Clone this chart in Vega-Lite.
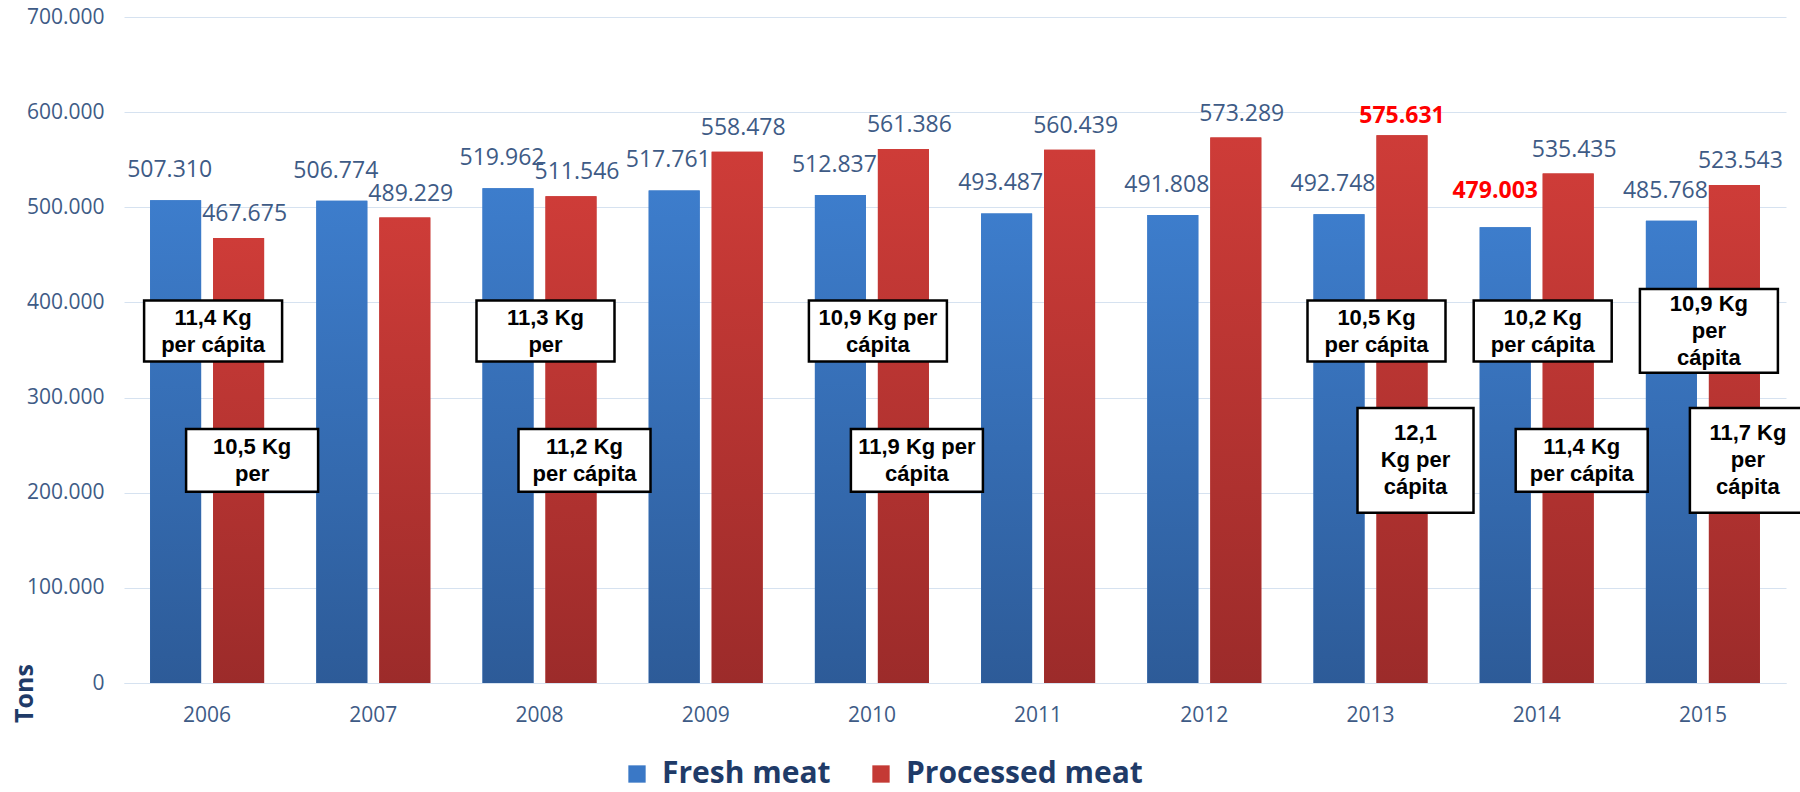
{
  "$schema": "https://vega.github.io/schema/vega-lite/v6.json",
  "width": 1662,
  "height": 666,
  "autosize": "none",
  "padding": {"left": 124, "top": 17, "right": 14, "bottom": 109},
  "config": {
    "locale": {"number": {"decimal": ",", "thousands": ".", "grouping": [3], "currency": ["", " €"]}},
    "view": {"stroke": null},
    "font": "Open Sans"
  },
  "datasets": {
    "meat": [
      {"year": "2006", "series": "Fresh meat", "tons": 507310},
      {"year": "2006", "series": "Processed meat", "tons": 467675},
      {"year": "2007", "series": "Fresh meat", "tons": 506774},
      {"year": "2007", "series": "Processed meat", "tons": 489229},
      {"year": "2008", "series": "Fresh meat", "tons": 519962},
      {"year": "2008", "series": "Processed meat", "tons": 511546},
      {"year": "2009", "series": "Fresh meat", "tons": 517761},
      {"year": "2009", "series": "Processed meat", "tons": 558478},
      {"year": "2010", "series": "Fresh meat", "tons": 512837},
      {"year": "2010", "series": "Processed meat", "tons": 561386},
      {"year": "2011", "series": "Fresh meat", "tons": 493487},
      {"year": "2011", "series": "Processed meat", "tons": 560439},
      {"year": "2012", "series": "Fresh meat", "tons": 491808},
      {"year": "2012", "series": "Processed meat", "tons": 573289},
      {"year": "2013", "series": "Fresh meat", "tons": 492748},
      {"year": "2013", "series": "Processed meat", "tons": 575631},
      {"year": "2014", "series": "Fresh meat", "tons": 479003},
      {"year": "2014", "series": "Processed meat", "tons": 535435},
      {"year": "2015", "series": "Fresh meat", "tons": 485768},
      {"year": "2015", "series": "Processed meat", "tons": 523543}
    ],
    "notes": [
      {"year": "2006", "series": "Fresh meat", "note": "11,4 Kg|per cápita"},
      {"year": "2006", "series": "Processed meat", "note": "10,5 Kg|per"},
      {"year": "2008", "series": "Fresh meat", "note": "11,3 Kg|per"},
      {"year": "2008", "series": "Processed meat", "note": "11,2 Kg|per cápita"},
      {"year": "2010", "series": "Fresh meat", "note": "10,9 Kg per|cápita"},
      {"year": "2010", "series": "Processed meat", "note": "11,9 Kg per|cápita"},
      {"year": "2013", "series": "Fresh meat", "note": "10,5 Kg|per cápita"},
      {"year": "2013", "series": "Processed meat", "note": "12,1|Kg per|cápita"},
      {"year": "2014", "series": "Fresh meat", "note": "10,2 Kg|per cápita"},
      {"year": "2014", "series": "Processed meat", "note": "11,4 Kg|per cápita"},
      {"year": "2015", "series": "Fresh meat", "note": "10,9 Kg|per|cápita"},
      {"year": "2015", "series": "Processed meat", "note": "11,7 Kg|per|cápita"}
    ]
  },
  "layer": [
    {
      "data": {"name": "meat"},
      "mark": {"type": "bar"},
      "encoding": {
        "x": {
          "field": "year", "type": "nominal",
          "scale": {"paddingInner": 0.314, "paddingOuter": 0.157},
          "axis": {
            "title": null, "labelAngle": 0, "labelFontSize": 21, "labelColor": "#3E5B86",
            "labelFont": "Open Sans", "ticks": false, "tickSize": 0, "labelPadding": 21,
            "domainColor": "#D6E2F0", "domainWidth": 1
          }
        },
        "xOffset": {
          "field": "series", "type": "nominal",
          "scale": {"domain": ["Fresh meat", "Processed meat"], "paddingInner": 0.19, "paddingOuter": 0}
        },
        "y": {
          "field": "tons", "type": "quantitative",
          "scale": {"domain": [0, 700000], "nice": false},
          "axis": {
            "values": [0, 100000, 200000, 300000, 400000, 500000, 600000, 700000],
            "format": ",d", "labelFontSize": 21, "labelColor": "#3E5B86", "labelFont": "Open Sans",
            "ticks": false, "tickSize": 0, "domain": false, "labelPadding": 20,
            "gridColor": "#D6E2F0", "gridWidth": 1,
            "title": "Tons", "titleFontSize": 25, "titleFontWeight": "bold", "titleColor": "#1F3B68",
            "titleAngle": 270, "titleX": -100, "titleY": 676, "titleAlign": "center", "titleBaseline": "middle"
          }
        },
        "color": {
          "field": "series", "type": "nominal",
          "scale": {"domain": ["Fresh meat", "Processed meat"], "range": ["#3A78C6", "#C43A35"]},
          "legend": {
            "orient": "none", "legendX": 498, "legendY": 742, "direction": "horizontal", "columns": 2, "title": null,
            "symbolType": "square", "symbolSize": 300, "symbolStrokeWidth": 0, "symbolOpacity": 1,
            "labelFontSize": 30, "labelFont": "Open Sans", "labelFontWeight": "bold", "labelColor": "#1F3B68",
            "labelLimit": 0, "columnPadding": 35, "labelOffset": 10, "padding": 0
          }
        }
      }
    },
    {
      "data": {"name": "meat"},
      "transform": [{"filter": "datum.series == 'Fresh meat'"}],
      "mark": {
        "type": "bar",
        "fill": {"gradient": "linear", "x1": 0, "y1": 0, "x2": 0, "y2": 1,
          "stops": [{"offset": 0, "color": "#3D7DCC"}, {"offset": 1, "color": "#2D5B98"}]}
      },
      "encoding": {
        "x": {"field": "year", "type": "nominal"},
        "xOffset": {"field": "series", "type": "nominal"},
        "y": {"field": "tons", "type": "quantitative"}
      }
    },
    {
      "data": {"name": "meat"},
      "transform": [{"filter": "datum.series == 'Processed meat'"}],
      "mark": {
        "type": "bar",
        "fill": {"gradient": "linear", "x1": 0, "y1": 0, "x2": 0, "y2": 1,
          "stops": [{"offset": 0, "color": "#CE3C38"}, {"offset": 1, "color": "#9C2B2A"}]}
      },
      "encoding": {
        "x": {"field": "year", "type": "nominal"},
        "xOffset": {"field": "series", "type": "nominal"},
        "y": {"field": "tons", "type": "quantitative"}
      }
    },
    {
      "data": {"name": "meat"},
      "transform": [{"filter": "datum.series == 'Fresh meat' && !(datum.year == '2014')"}],
      "mark": {"type": "text", "baseline": "middle", "align": "center", "dy": -30, "dx": -6, "fontSize": 23, "font": "Open Sans", "color": "#3E5B86"},
      "encoding": {
        "x": {"field": "year", "type": "nominal"},
        "xOffset": {"field": "series", "type": "nominal"},
        "y": {"field": "tons", "type": "quantitative"},
        "text": {"field": "tons", "type": "quantitative", "format": ",d"}
      }
    },
    {
      "data": {"name": "meat"},
      "transform": [{"filter": "datum.series == 'Processed meat' && !(datum.year == '2013')"}],
      "mark": {"type": "text", "baseline": "middle", "align": "center", "dy": -24, "dx": 6, "fontSize": 23, "font": "Open Sans", "color": "#3E5B86"},
      "encoding": {
        "x": {"field": "year", "type": "nominal"},
        "xOffset": {"field": "series", "type": "nominal"},
        "y": {"field": "tons", "type": "quantitative"},
        "text": {"field": "tons", "type": "quantitative", "format": ",d"}
      }
    },
    {
      "data": {"name": "meat"},
      "transform": [{"filter": "datum.year == '2014' && datum.series == 'Fresh meat'"}],
      "mark": {"type": "text", "baseline": "middle", "align": "center", "dy": -36, "dx": -10, "fontSize": 23, "font": "Open Sans", "fontWeight": "bold", "color": "#FF0000"},
      "encoding": {
        "x": {"field": "year", "type": "nominal"},
        "xOffset": {"field": "series", "type": "nominal"},
        "y": {"field": "tons", "type": "quantitative"},
        "text": {"field": "tons", "type": "quantitative", "format": ",d"}
      }
    },
    {
      "data": {"name": "meat"},
      "transform": [{"filter": "datum.year == '2013' && datum.series == 'Processed meat'"}],
      "mark": {"type": "text", "baseline": "middle", "align": "center", "dy": -19, "fontSize": 23, "font": "Open Sans", "fontWeight": "bold", "color": "#FF0000"},
      "encoding": {
        "x": {"field": "year", "type": "nominal"},
        "xOffset": {"field": "series", "type": "nominal"},
        "y": {"field": "tons", "type": "quantitative"},
        "text": {"field": "tons", "type": "quantitative", "format": ",d"}
      }
    },
    {
      "data": {"name": "notes"},
      "transform": [{"filter": "datum.series == 'Fresh meat' && indexof(datum.note, '|') == lastindexof(datum.note, '|')"}],
      "mark": {"type": "bar", "width": 138, "xOffset": 6, "fill": "white", "stroke": "black", "strokeWidth": 2.5},
      "encoding": {
        "x": {"field": "year", "type": "nominal"},
        "y": {"datum": 402000, "type": "quantitative"},
        "y2": {"datum": 338000}
      }
    },
    {
      "data": {"name": "notes"},
      "transform": [{"filter": "datum.series == 'Fresh meat' && indexof(datum.note, '|') != lastindexof(datum.note, '|')"}],
      "mark": {"type": "bar", "width": 138, "xOffset": 6, "fill": "white", "stroke": "black", "strokeWidth": 2.5},
      "encoding": {
        "x": {"field": "year", "type": "nominal"},
        "y": {"datum": 414000, "type": "quantitative"},
        "y2": {"datum": 326000}
      }
    },
    {
      "data": {"name": "notes"},
      "transform": [{"filter": "datum.series == 'Processed meat' && indexof(datum.note, '|') == lastindexof(datum.note, '|')"}],
      "mark": {"type": "bar", "width": 132, "xOffset": 45, "fill": "white", "stroke": "black", "strokeWidth": 2.5},
      "encoding": {
        "x": {"field": "year", "type": "nominal"},
        "y": {"datum": 267000, "type": "quantitative"},
        "y2": {"datum": 201000}
      }
    },
    {
      "data": {"name": "notes"},
      "transform": [{"filter": "datum.series == 'Processed meat' && indexof(datum.note, '|') != lastindexof(datum.note, '|')"}],
      "mark": {"type": "bar", "width": 116, "xOffset": 45, "fill": "white", "stroke": "black", "strokeWidth": 2.5},
      "encoding": {
        "x": {"field": "year", "type": "nominal"},
        "y": {"datum": 289000, "type": "quantitative"},
        "y2": {"datum": 179000}
      }
    },
    {
      "data": {"name": "notes"},
      "transform": [{"filter": "datum.series == 'Fresh meat' && indexof(datum.note, '|') == lastindexof(datum.note, '|')"}],
      "mark": {"type": "text", "xOffset": 6, "dy": -13, "align": "center", "baseline": "middle", "lineBreak": "|", "lineHeight": 27, "fontSize": 22, "fontWeight": "bold", "font": "Liberation Sans", "color": "black"},
      "encoding": {
        "x": {"field": "year", "type": "nominal"},
        "y": {"datum": 370000, "type": "quantitative"},
        "text": {"field": "note", "type": "nominal"}
      }
    },
    {
      "data": {"name": "notes"},
      "transform": [{"filter": "datum.series == 'Fresh meat' && indexof(datum.note, '|') != lastindexof(datum.note, '|')"}],
      "mark": {"type": "text", "xOffset": 6, "dy": -27, "align": "center", "baseline": "middle", "lineBreak": "|", "lineHeight": 27, "fontSize": 22, "fontWeight": "bold", "font": "Liberation Sans", "color": "black"},
      "encoding": {
        "x": {"field": "year", "type": "nominal"},
        "y": {"datum": 370000, "type": "quantitative"},
        "text": {"field": "note", "type": "nominal"}
      }
    },
    {
      "data": {"name": "notes"},
      "transform": [{"filter": "datum.series == 'Processed meat' && indexof(datum.note, '|') == lastindexof(datum.note, '|')"}],
      "mark": {"type": "text", "xOffset": 45, "dy": -13, "align": "center", "baseline": "middle", "lineBreak": "|", "lineHeight": 27, "fontSize": 22, "fontWeight": "bold", "font": "Liberation Sans", "color": "black"},
      "encoding": {
        "x": {"field": "year", "type": "nominal"},
        "y": {"datum": 234000, "type": "quantitative"},
        "text": {"field": "note", "type": "nominal"}
      }
    },
    {
      "data": {"name": "notes"},
      "transform": [{"filter": "datum.series == 'Processed meat' && indexof(datum.note, '|') != lastindexof(datum.note, '|')"}],
      "mark": {"type": "text", "xOffset": 45, "dy": -27, "align": "center", "baseline": "middle", "lineBreak": "|", "lineHeight": 27, "fontSize": 22, "fontWeight": "bold", "font": "Liberation Sans", "color": "black"},
      "encoding": {
        "x": {"field": "year", "type": "nominal"},
        "y": {"datum": 234000, "type": "quantitative"},
        "text": {"field": "note", "type": "nominal"}
      }
    }
  ]
}
